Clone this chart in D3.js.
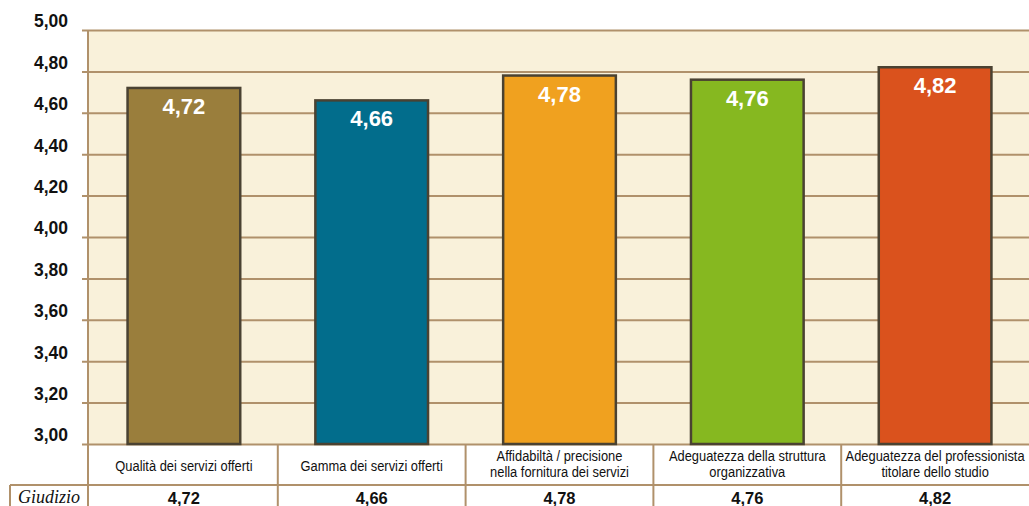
<!DOCTYPE html>
<html>
<head>
<meta charset="utf-8">
<script src="https://cdn.jsdelivr.net/npm/d3@7"></script>
<style>
  html, body { margin: 0; padding: 0; background: #ffffff; }
  svg { display: block; }
</style>
</head>
<body>
<svg id="chart" width="1029" height="506"></svg>
<script>
// Categories (each label split into its printed lines)
const categories = [
  ["Qualità dei servizi offerti"],
  ["Gamma dei servizi offerti"],
  ["Affidabiltà / precisione", "nella fornitura dei servizi"],
  ["Adeguatezza della struttura", "organizzativa"],
  ["Adeguatezza del professionista", "titolare dello studio"]
];
const values = [4.72, 4.66, 4.78, 4.76, 4.82];
const barColors = ["#9a7e3c", "#026d8c", "#f0a11f", "#86b820", "#da521d"];
const yTicks = [3.0, 3.2, 3.4, 3.6, 3.8, 4.0, 4.2, 4.4, 4.6, 4.8, 5.0];
const rowLabel = "Giudizio";

const fmt = v => d3.format(".2f")(v).replace(".", ",");

const svg = d3.select("#chart");
const plotLeft = 88, plotRight = 1029, plotTop = 30, plotBottom = 444;
const lineColor = "#b0916b";

const x = d3.scaleBand()
  .domain(d3.range(categories.length))
  .range([plotLeft + 2, plotRight])
  .paddingInner(0.4)
  .paddingOuter(0.2);

const y = d3.scaleLinear().domain([3, 5]).range([plotBottom, plotTop]);

// Plot background
svg.append("rect")
  .attr("x", plotLeft).attr("y", plotTop)
  .attr("width", 1029 - plotLeft).attr("height", plotBottom - plotTop)
  .attr("fill", "#f9f1da");

// Gridlines with small ticks to the left of the axis
const yAxis = d3.axisLeft(y)
  .tickValues(yTicks)
  .tickSize(0)
  .tickSizeOuter(0)
  .tickFormat(fmt);

const gy = svg.append("g")
  .attr("transform", `translate(${plotLeft - 6},0)`)
  .call(yAxis);
gy.select(".domain").remove();
gy.selectAll(".tick line")
  .attr("stroke", lineColor)
  .attr("stroke-width", 2)
  .attr("x1", 0)
  .attr("x2", 1029 - plotLeft + 6);
gy.selectAll(".tick text")
  .attr("x", -14)
  .attr("dy", "-0.18em")
  .attr("fill", "#111")
  .style("font-family", "'Liberation Sans', Arial, sans-serif")
  .style("font-weight", "bold")
  .style("font-size", "17.5px");

// Vertical axis line
svg.append("line")
  .attr("x1", plotLeft).attr("x2", plotLeft)
  .attr("y1", plotTop).attr("y2", 485)
  .attr("stroke", lineColor).attr("stroke-width", 2);

// Bars
svg.append("g").selectAll("rect")
  .data(values)
  .join("rect")
  .attr("x", (d, i) => x(i))
  .attr("y", d => y(d))
  .attr("width", x.bandwidth())
  .attr("height", d => y(3) - y(d))
  .attr("fill", (d, i) => barColors[i])
  .attr("stroke", "#4a4232")
  .attr("stroke-width", 2.5);

// Value labels inside bars
svg.append("g").selectAll("text")
  .data(values)
  .join("text")
  .attr("x", (d, i) => x(i) + x.bandwidth() / 2)
  .attr("y", d => y(d) + 26)
  .attr("text-anchor", "middle")
  .attr("fill", "#ffffff")
  .style("font-family", "'Liberation Sans', Arial, sans-serif")
  .style("font-weight", "bold")
  .style("font-size", "22px")
  .text(d => fmt(d));

// Data table under the chart
const step = x.step();
const colStart = i => i === 0 ? plotLeft : x(i) - step * 0.2;
const colCenter = i => x(i) + x.bandwidth() / 2;
const rowTop = plotBottom, rowMid = 485, rowEnd = 520;

const table = svg.append("g");
// Row separator
table.append("line")
  .attr("x1", 10).attr("x2", 1029)
  .attr("y1", rowMid).attr("y2", rowMid)
  .attr("stroke", lineColor).attr("stroke-width", 2);
// Column separators
table.selectAll("line.col")
  .data(d3.range(1, categories.length))
  .join("line")
  .attr("class", "col")
  .attr("x1", i => colStart(i)).attr("x2", i => colStart(i))
  .attr("y1", rowTop).attr("y2", rowEnd)
  .attr("stroke", lineColor).attr("stroke-width", 2);
// Row label cell borders
table.append("line")
  .attr("x1", 10).attr("x2", 10)
  .attr("y1", rowMid).attr("y2", rowEnd)
  .attr("stroke", lineColor).attr("stroke-width", 2);
table.append("line")
  .attr("x1", plotLeft).attr("x2", plotLeft)
  .attr("y1", rowMid).attr("y2", rowEnd)
  .attr("stroke", lineColor).attr("stroke-width", 2);

// Category labels, drawn in a horizontally condensed face
const squeeze = 0.86;
const catText = table.selectAll("text.cat")
  .data(categories)
  .join("text")
  .attr("class", "cat")
  .attr("text-anchor", "middle")
  .attr("fill", "#111")
  .attr("transform", (d, i) => `translate(${colCenter(i)},0) scale(${squeeze},1)`)
  .style("font-family", "'Liberation Sans', Arial, sans-serif")
  .style("font-size", "15px");
catText.each(function (lines) {
  const n = lines.length;
  const y0 = n === 1 ? 471 : 461;
  d3.select(this).selectAll("tspan")
    .data(lines)
    .join("tspan")
    .attr("x", 0)
    .attr("y", (l, j) => y0 + j * 16)
    .text(l => l);
});

// Row label
table.append("text")
  .attr("x", 49).attr("y", 503)
  .attr("text-anchor", "middle")
  .attr("fill", "#111")
  .style("font-family", "'Liberation Serif', 'Times New Roman', serif")
  .style("font-style", "italic")
  .style("font-size", "18px")
  .text(rowLabel);

// Values row
table.selectAll("text.val")
  .data(values)
  .join("text")
  .attr("class", "val")
  .attr("x", (d, i) => colCenter(i))
  .attr("y", 504)
  .attr("text-anchor", "middle")
  .attr("fill", "#111")
  .style("font-family", "'Liberation Sans', Arial, sans-serif")
  .style("font-weight", "bold")
  .style("font-size", "16.5px")
  .text(d => fmt(d));
</script>
</body>
</html>
